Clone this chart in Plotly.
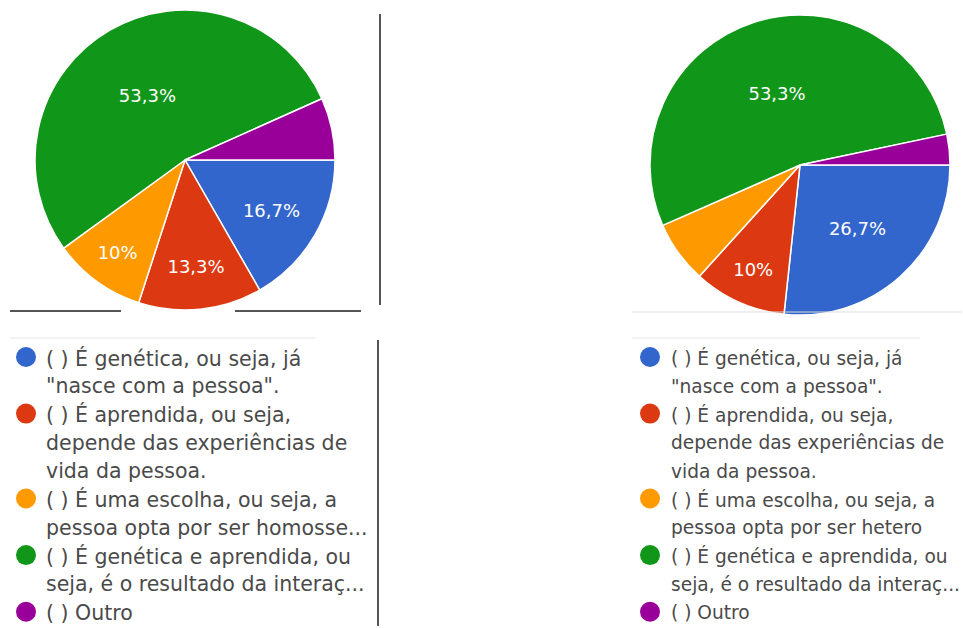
import plotly.graph_objects as go

W, H = 963, 628

colors = ["#3366cc", "#dc3912", "#ff9900", "#109618", "#990099"]

labels_left = [
    ["( ) É genética, ou seja, já", "\"nasce com a pessoa\"."],
    ["( ) É aprendida, ou seja,", "depende das experiências de", "vida da pessoa."],
    ["( ) É uma escolha, ou seja, a", "pessoa opta por ser homosse..."],
    ["( ) É genética e aprendida, ou", "seja, é o resultado da interaç..."],
    ["( ) Outro"],
]
labels_right = [
    ["( ) É genética, ou seja, já", "\"nasce com a pessoa\"."],
    ["( ) É aprendida, ou seja,", "depende das experiências de", "vida da pessoa."],
    ["( ) É uma escolha, ou seja, a", "pessoa opta por ser hetero"],
    ["( ) É genética e aprendida, ou", "seja, é o resultado da interaç..."],
    ["( ) Outro"],
]
values_left = [16.7, 13.3, 10.0, 53.3, 6.7]
values_right = [26.7, 10.0, 6.7, 53.3, 3.3]

FONT = "DejaVu Sans, Verdana, sans-serif"


def pct_text(v):
    if v < 9.5:
        return ""
    s = f"{v:.1f}".replace(".", ",")
    if s.endswith(",0"):
        s = s[:-2]
    return s + "%"


def px(x):
    return x / W


def py(y):
    return 1 - y / H


fig = go.Figure()


def add_pie(values, labels, cx, cy, r):
    fig.add_trace(go.Pie(
        values=values,
        labels=[" ".join(l) for l in labels],
        text=[pct_text(v) for v in values],
        textinfo="text",
        textposition="inside",
        insidetextorientation="horizontal",
        textfont=dict(family=FONT, size=18, color="white"),
        marker=dict(colors=colors, line=dict(color="white", width=1.5)),
        sort=False,
        direction="clockwise",
        rotation=90,
        showlegend=False,
        hoverinfo="label+percent",
        domain=dict(x=[px(cx - r - 10), px(cx + r + 10)], y=[py(cy + r), py(cy - r)]),
    ))


add_pie(values_left, labels_left, 185, 160, 150)
add_pie(values_right, labels_right, 800, 165, 150)

annotations = []
shapes = []
LINE_H = 28.3


def add_legend(labels, mx, tx, y0, fsize):
    y = y0
    for i, lines in enumerate(labels):
        rr = 10
        shapes.append(dict(type="circle", xref="paper", yref="paper",
                           x0=px(mx - rr), x1=px(mx + rr), y0=py(y + rr - 1), y1=py(y - rr - 1),
                           fillcolor=colors[i], line=dict(width=0)))
        for j, line in enumerate(lines):
            annotations.append(dict(
                text=line, xref="paper", yref="paper", x=px(tx), y=py(y + j * LINE_H),
                xanchor="left", yanchor="middle", showarrow=False,
                font=dict(family=FONT, size=fsize, color="#4a4a4a"),
            ))
        y += len(lines) * LINE_H


add_legend(labels_left, 26, 44, 358, 20.5)
add_legend(labels_right, 650, 669, 358, 18.6)

# frame lines from the original screenshot
dark = "#555555"
shapes += [
    dict(type="line", xref="paper", yref="paper", x0=px(380), x1=px(380), y0=py(14), y1=py(305),
         line=dict(color=dark, width=2)),
    dict(type="line", xref="paper", yref="paper", x0=px(10), x1=px(121), y0=py(311), y1=py(311),
         line=dict(color=dark, width=2)),
    dict(type="line", xref="paper", yref="paper", x0=px(235), x1=px(361), y0=py(311), y1=py(311),
         line=dict(color=dark, width=2)),
    dict(type="line", xref="paper", yref="paper", x0=px(378), x1=px(378), y0=py(340), y1=py(626),
         line=dict(color=dark, width=2)),
    dict(type="line", xref="paper", yref="paper", x0=px(10), x1=px(315), y0=py(338), y1=py(338),
         line=dict(color="#e6e6e6", width=1)),
    dict(type="line", xref="paper", yref="paper", x0=px(632), x1=px(962), y0=py(312), y1=py(312),
         line=dict(color="#dddddd", width=1)),
    dict(type="line", xref="paper", yref="paper", x0=px(632), x1=px(920), y0=py(338), y1=py(338),
         line=dict(color="#e6e6e6", width=1)),
]

fig.update_layout(
    width=W, height=H,
    margin=dict(l=0, r=0, t=0, b=0),
    paper_bgcolor="white", plot_bgcolor="white",
    annotations=annotations, shapes=shapes,
    showlegend=False,
)

fig.write_html(
    "out.html",
    config={"displayModeBar": False},
    post_script="document.body.style.margin='0';document.body.style.overflow='hidden';",
)
